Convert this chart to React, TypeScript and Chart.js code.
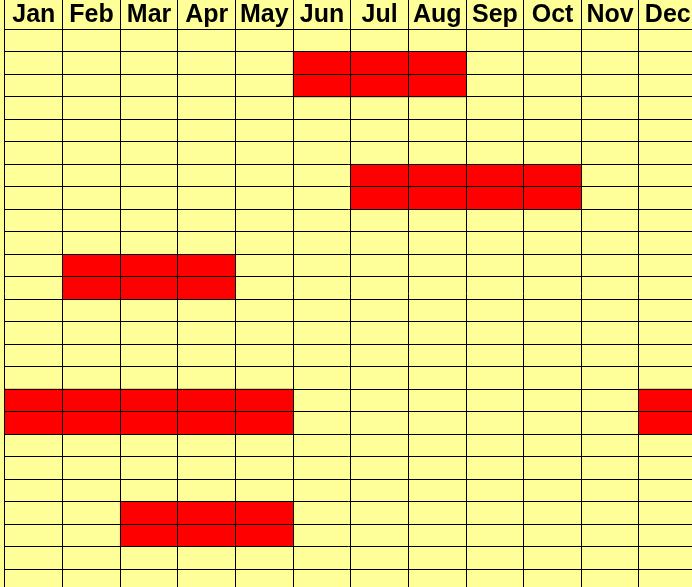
import React, { useEffect, useRef } from 'react';
import { Chart, registerables } from 'chart.js';

Chart.register(...registerables);

// Column (month) labels shown in the header
const months = ['Jan', 'Feb', 'Mar', 'Apr', 'May', 'Jun', 'Jul', 'Aug', 'Sep', 'Oct', 'Nov', 'Dec'];

// Number of body rows in the grid
const rowCount = 25;

// Filled (red) blocks: first row, number of rows, first month, last month
const blockFirstRow = [1, 6, 10, 16, 16, 21];
const blockRowSpan = [2, 2, 2, 2, 2, 2];
const blockFromMonth = ['Jun', 'Jul', 'Feb', 'Jan', 'Dec', 'Mar'];
const blockToMonth = ['Aug', 'Oct', 'Apr', 'May', 'Dec', 'May'];

// Visible axis extents (the picture is cropped on the right and bottom; header is above row 0)
const xVisibleMax = 11.92;
const yVisibleMin = -1.312;
const yVisibleMax = 24.8;

const YELLOW = '#FFFF99';
const RED = '#FF0000';

export default function App() {
  const canvasRef = useRef<HTMLCanvasElement | null>(null);

  useEffect(() => {
    document.body.style.margin = '0';
    const canvas = canvasRef.current;
    if (!canvas) return;

    const cells: { x: [number, number]; y: number }[] = [];
    blockFirstRow.forEach((row, i) => {
      for (let k = 0; k < blockRowSpan[i]; k++) {
        cells.push({
          y: row + k + 0.5,
          x: [months.indexOf(blockFromMonth[i]), months.indexOf(blockToMonth[i]) + 1],
        });
      }
    });

    const rows = Array.from({ length: rowCount }, (_, i) => i);

    const chart = new Chart(canvas, {
      type: 'bar',
      data: {
        datasets: [
          {
            data: cells as any,
            backgroundColor: RED,
            borderWidth: 0,
            barPercentage: 1,
            categoryPercentage: 1,
          },
        ],
      },
      options: {
        indexAxis: 'y',
        animation: false,
        responsive: false,
        devicePixelRatio: 1,
        layout: { padding: { left: 5, top: 0, right: 0, bottom: 0 } },
        plugins: {
          legend: { display: false },
          tooltip: { enabled: false },
        },
        scales: {
          x: {
            type: 'linear',
            position: 'top',
            min: 0,
            max: xVisibleMax,
            offset: false,
            afterBuildTicks: (axis: any) => {
              axis.ticks = months.map((_, i) => ({ value: i + 0.5 }));
            },
            grid: { offset: true, color: '#000', lineWidth: 1, drawTicks: false, z: 1 },
            border: { display: false },
            ticks: {
              mirror: true,
              padding: 0,
              autoSkip: false,
              maxRotation: 0,
              minRotation: 0,
              color: '#000',
              font: { family: "'Liberation Sans', Arial, sans-serif", size: 25, weight: 'bold', lineHeight: 1.2 },
              callback: (v: any) => months[Math.floor(Number(v))] ?? '',
            },
          },
          y: {
            type: 'linear',
            reverse: true,
            offset: false,
            min: yVisibleMin,
            max: yVisibleMax,
            afterBuildTicks: (axis: any) => {
              axis.ticks = rows.map((r) => ({ value: r }));
            },
            grid: { offset: false, color: '#000', lineWidth: 1, drawTicks: false, z: 1 },
            border: { display: false },
            ticks: { display: false },
          },
        },
      } as any,
    });

    return () => chart.destroy();
  }, []);

  return (
    <div style={{ width: 692, height: 587, background: YELLOW, position: 'relative', overflow: 'hidden' }}>
      <canvas ref={canvasRef} width={692} height={587} style={{ display: 'block' }} />
    </div>
  );
}
